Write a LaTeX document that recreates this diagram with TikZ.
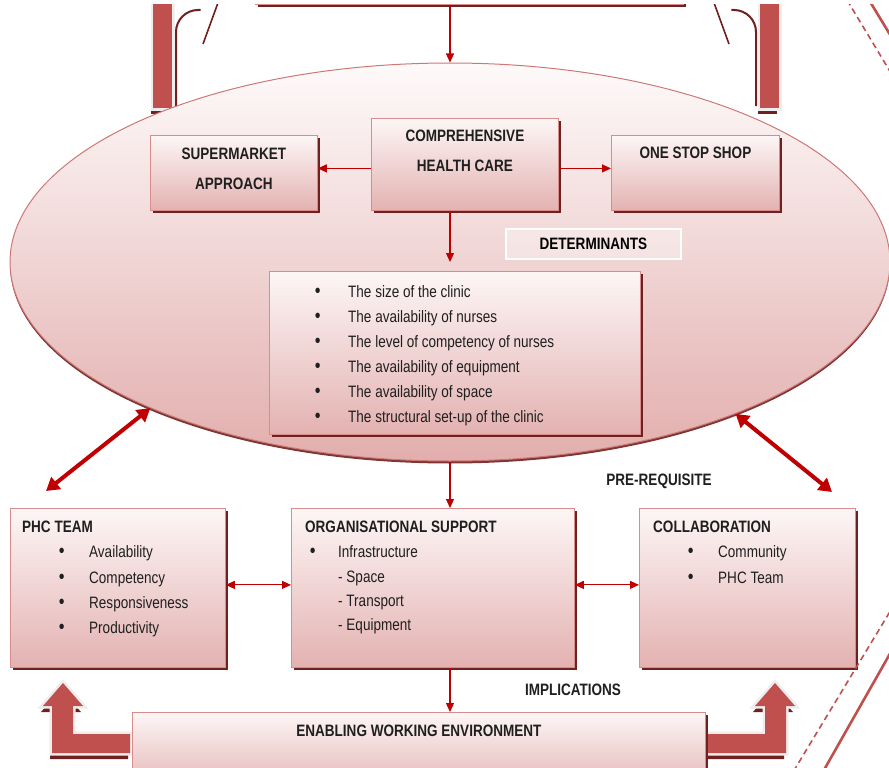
\documentclass[tikz,border=0pt]{standalone}
\usepackage{fontspec}
\setmainfont[FakeStretch=0.82]{Liberation Sans}
\usetikzlibrary{arrows.meta, shapes.geometric, shadows, positioning}
\definecolor{boxtop}{RGB}{253,246,246}
\definecolor{boxbot}{RGB}{227,178,177}
\definecolor{boxline}{RGB}{216,140,139}
\definecolor{shred}{RGB}{112,32,30}
\definecolor{arrred}{RGB}{192,0,0}
\definecolor{bentred}{RGB}{192,80,77}
\definecolor{glow}{RGB}{238,236,236}
\definecolor{elltop}{RGB}{254,250,250}
\definecolor{ellbot}{RGB}{226,174,173}
\definecolor{ellline}{RGB}{205,120,118}
\newcommand\lsz{\fontsize{16.5}{25}\selectfont}

\begin{document}
\begin{tikzpicture}[x=1pt, y=-1pt,
  bx/.style={draw=boxline, line width=0.8pt, top color=boxtop, bottom color=boxbot, anchor=north west, inner sep=0pt,
    drop shadow={shadow xshift=2.5pt, shadow yshift=-3pt, fill=shred, opacity=1}},
  detbox/.style={draw=white, line width=1.8pt, fill=white, fill opacity=0.35, text opacity=1, anchor=north west, inner sep=0pt,
    font=\bfseries\lsz},
  hd/.style={font=\bfseries\fontsize{16.5}{30}\selectfont, inner sep=0pt, align=center, text=black!88},
  itm/.style={font=\lsz, inner sep=0pt, anchor=base west, text height=12pt, text depth=3.5pt, text=black!88},
  bl/.style={label={[font=\fontsize{20}{25}\selectfont, inner sep=0pt, text=black!88, label distance=#1]left:\textbullet}},
  arr/.style={draw=arrred, line width=1.1pt, -{Triangle[length=9pt,width=8pt]}},
  darr/.style={draw=arrred, line width=1.1pt, {Triangle[length=9pt,width=8pt]}-{Triangle[length=9pt,width=8pt]}},
  bigarr/.style={draw=arrred, line width=4pt, {Triangle[length=13pt,width=15pt]}-{Triangle[length=13pt,width=15pt]}},
  bent/.style={fill=bentred, drop shadow={shadow xshift=-2pt, shadow yshift=-6pt, fill=shred, opacity=1},
    preaction={draw=glow, line width=5pt}}
]
\useasboundingbox (0,0) rectangle (889,768);
\clip (0,5) rectangle (889,768);

% arrows coming down from the cut-off top
\foreach \m in {1,-1} {
\begin{scope}[xshift={(1-\m)*466pt}, xscale=\m]
\path[bent] (153,-10) rectangle (172,108);
\draw[shred, line width=2pt] (176,106) -- (176,32) arc[start angle=180, end angle=270, radius=22] -- (203,10);
\fill[white] (200,0) -- (218,0) -- (203,44) -- cycle;
\draw[shred, line width=1.6pt] (219,0) -- (203,44);
\end{scope}}
\node[bx, minimum width=428pt, minimum height=64pt] (top) at (255,-60) {};

% big ellipse
\node[ellipse, draw=ellline, line width=1pt, top color=elltop, bottom color=ellbot, inner sep=0pt,
  minimum width=880pt, minimum height=398pt,
  drop shadow={shadow xshift=0pt, shadow yshift=-2.5pt, fill=shred, opacity=0.9}] (ell) at (450,262) {};

\node[bx, minimum width=187pt, minimum height=92pt] (chc) at (371,118) {};
\node[bx, minimum width=167pt, minimum height=75pt] (sup) at (150,135) {};
\node[bx, minimum width=168pt, minimum height=75pt] (oss) at (611,135) {};
\node[hd, below=12pt of chc.north] (chct) {COMPREHENSIVE\\HEALTH CARE};
\node[hd, below=13pt of sup.north] (supt) {SUPERMARKET\\APPROACH};
\node[hd, below=12pt of oss.north] (osst) {ONE STOP SHOP};
\node[detbox, minimum width=175pt, minimum height=30pt] (det) at (505,228) {DETERMINANTS};

\node[bx, minimum width=371pt, minimum height=163pt] (lst) at (269,271) {};
\node[itm, bl=27.1pt] (d1) at (348,297) {The size of the clinic};
\node[itm, bl=27.1pt] (d2) at (348,322) {The availability of nurses};
\node[itm, bl=27.1pt] (d3) at (348,347) {The level of competency of nurses};
\node[itm, bl=27.1pt] (d4) at (348,372) {The availability of equipment};
\node[itm, bl=27.1pt] (d5) at (348,397) {The availability of space};
\node[itm, bl=27.1pt] (d6) at (348,422) {The structural set-up of the clinic};

% bottom row
\node[bx, minimum width=215pt, minimum height=159pt] (phc) at (10,508) {};
\node[bx, minimum width=283pt, minimum height=159pt] (org) at (291,508) {};
\node[bx, minimum width=216pt, minimum height=159pt] (col) at (639,508) {};
\node[hd, below right=13pt and 12pt of phc.north west] (phct) {PHC TEAM};
\node[hd, below right=13pt and 14pt of org.north west] (orgt) {ORGANISATIONAL SUPPORT};
\node[hd, below right=13pt and 14pt of col.north west] (colt) {COLLABORATION};
\node[itm, bl=24.1pt] (p1) at (89,557) {Availability};
\node[itm, bl=24.1pt] (p2) at (89,583) {Competency};
\node[itm, bl=24.1pt] (p3) at (89,608) {Responsiveness};
\node[itm, bl=24.1pt] (p4) at (89,633) {Productivity};
\node[itm, bl=22.1pt] (o1) at (338,557) {Infrastructure};
\node[itm] (o2) at (338,582) {- Space};
\node[itm] (o3) at (338,606) {- Transport};
\node[itm] (o4) at (338,630) {- Equipment};
\node[itm, bl=24.1pt] (c1) at (718,557) {Community};
\node[itm, bl=24.1pt] (c2) at (718,583) {PHC Team};

\node[hd] (pre) at (659,481) {PRE-REQUISITE};
\node[hd] (imp) at (573,690) {IMPLICATIONS};

% bent arrows up to the side boxes
\foreach \m in {1,-1} {
\begin{scope}[xshift={(1-\m)*419pt}, xscale=\m]
\path[bent] (52,706) -- (43,706) -- (63,683) -- (83,706) -- (73,706) -- (73,734) -- (130,734) -- (130,753) -- (52,753) -- cycle;
\end{scope}}
\node[bx, minimum width=573pt, minimum height=80pt] (env) at (132,712) {};
\node[hd, below=13pt of env.north] (envt) {ENABLING WORKING ENVIRONMENT};

% connectors
\draw[arr] (ell.north |- top.south) -- (ell.north);
\draw[arr] ([yshift=-4pt]chc.west) -- ([yshift=-4pt]chc.west -| sup.east);
\draw[arr] ([yshift=-4pt]chc.east) -- ([yshift=-4pt]chc.east -| oss.west);
\draw[arr, shorten >=9pt] (chc.south -| ell.north) -- (lst.north -| ell.north);
\draw[arr] (ell.south) -- (org.north -| ell.south);
\draw[arr] (org.south -| ell.south) -- (env.north -| ell.south);
\draw[darr] ([yshift=3pt]phc.east) -- ([yshift=3pt]org.west);
\draw[darr] ([yshift=3pt]org.east) -- ([yshift=3pt]col.west);
\coordinate (pl) at (46,491);
\coordinate (pr) at (832,492);
\draw[bigarr] (ell.206) -- (pl);
\draw[bigarr] (ell.-28) -- (pr);

% ribbon edges on the right
\draw[bentred, line width=1.6pt, dash pattern=on 6pt off 4pt] (847,0) -- (900,88);
\draw[bentred, line width=2.6pt] (869,0) -- (900,51);
\draw[bentred, line width=1.6pt, dash pattern=on 6pt off 4pt] (900,595) -- (790,777);
\draw[bentred, line width=2.6pt] (900,636) -- (820,777);
\end{tikzpicture}
\end{document}
